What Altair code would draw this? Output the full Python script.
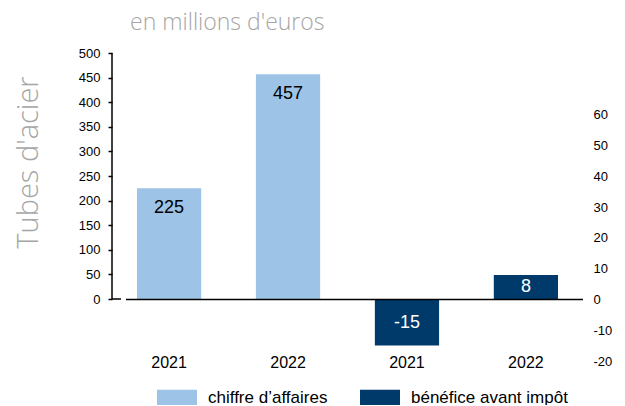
import altair as alt
import pandas as pd

years = ["2021", "2022"]
chiffre_affaires = [225, 457]
benefice = [-15, 8]
series = ["chiffre d’affaires", "bénéfice avant impôt"]
colors = ["#9DC3E6", "#003A6B"]
left_ticks = list(range(0, 501, 50))
right_ticks = list(range(-20, 61, 10))

slots = ["ca" + y for y in years] + ["bn" + y for y in years]

ca_df = pd.DataFrame({"slot": slots[:2], "value": chiffre_affaires, "series": series[0]})
bn_df = pd.DataFrame({"slot": slots[2:], "value": benefice, "series": series[1]})
bn_df["mid"] = bn_df["value"] / 2
bn_df["label"] = bn_df["value"].astype(str)

FONT = "Liberation Sans"
GRAY = "#A6A6A6"

x = alt.X(
    "slot:N",
    scale=alt.Scale(domain=slots, paddingInner=0.46, paddingOuter=0.21),
    axis=alt.Axis(title=None, labelExpr="slice(datum.value, 2)", ticks=False, domain=False,
                  labelFont=FONT, labelFontSize=16, labelColor="black", labelPadding=1,
                  labelBaseline="middle", labelAngle=0),
)

color = alt.Color(
    "series:N",
    scale=alt.Scale(domain=series, range=colors),
    legend=alt.Legend(title=None, orient="none", legendX=45, legendY=325, direction="horizontal",
                      symbolType="M-1,-0.425H1V0.425H-1Z", symbolSize=1600, symbolStrokeWidth=0,
                      symbolOpacity=1, labelFont=FONT, labelFontSize=17, labelColor="black",
                      labelOffset=11, columnPadding=32, padding=0, labelLimit=400),
)

left_scale = alt.Scale(domain=[-126, 500], nice=False, zero=False)
left_axis = alt.Axis(values=left_ticks, domain=False, tickSize=4, tickColor="black", tickWidth=1.5,
                     labelPadding=8, labelFont=FONT, labelFontSize=13, labelColor="black",
                     grid=False, title="Tubes d'acier", titleX=-84, titleY=109, titleAngle=270,
                     titleAlign="center", titleBaseline="middle", titleFont="Open Sans",
                     titleFontWeight=300, titleFontSize=29, titleColor=GRAY)

right_scale = alt.Scale(domain=[-20, 80.16], nice=False, zero=False)
right_axis = alt.Axis(orient="right", values=right_ticks, domain=False, ticks=False, grid=False,
                      labelExpr="replace(datum.label, '\u2212', '-')",
                      labelPadding=10, labelFont=FONT, labelFontSize=13, labelColor="black", title=None)

ca_bars = alt.Chart(ca_df).mark_bar().encode(
    x=x, y=alt.Y("value:Q", scale=left_scale, axis=left_axis), color=color)
ca_text = alt.Chart(ca_df).mark_text(dy=20, baseline="middle", fontSize=18, font=FONT, color="black").encode(
    x=x, y=alt.Y("value:Q", scale=left_scale, axis=left_axis), text="value:Q")
left_rule = alt.Chart(pd.DataFrame({"lo": [left_ticks[0]], "hi": [left_ticks[-1]]})).mark_rule(
    color="black", strokeWidth=1.5).encode(
    x=alt.value(0), y=alt.Y("lo:Q", scale=left_scale, axis=left_axis), y2="hi:Q")
zero_stub = alt.Chart(pd.DataFrame({"lo": [left_ticks[0]]})).mark_rule(
    color="black", strokeWidth=1.5).encode(
    x=alt.value(0), x2=alt.value(9), y=alt.Y("lo:Q", scale=left_scale, axis=left_axis))
left = alt.layer(ca_bars, ca_text, left_rule, zero_stub)

bn_bars = alt.Chart(bn_df).mark_bar().encode(
    x=x, y=alt.Y("value:Q", scale=right_scale, axis=right_axis), color=color)
bn_text = alt.Chart(bn_df).mark_text(baseline="middle", fontSize=18, font=FONT, color="white").encode(
    x=x, y=alt.Y("mid:Q", scale=right_scale, axis=right_axis), text="label:N")
zero_rule = alt.Chart(pd.DataFrame({"z": [0]})).mark_rule(color="black", strokeWidth=1.5).encode(
    x=alt.value(14), x2=alt.value(471), y=alt.Y("z:Q", scale=right_scale, axis=right_axis))
right = alt.layer(bn_bars, zero_rule, bn_text)

chart = alt.layer(left, right).resolve_scale(y="independent").properties(
    width=471, height=308,
    autosize=alt.AutoSizeParams(type="none"),
    padding={"left": 104, "top": 45, "right": 34, "bottom": 44},
    title=alt.Title("en millions d'euros", anchor="start", frame="group", dx=18, offset=12,
                    font="Open Sans", fontWeight=300, fontSize=23, color=GRAY),
).configure_view(stroke=None)

chart.save("out.html", embed_options={"renderer": "svg", "actions": False})
